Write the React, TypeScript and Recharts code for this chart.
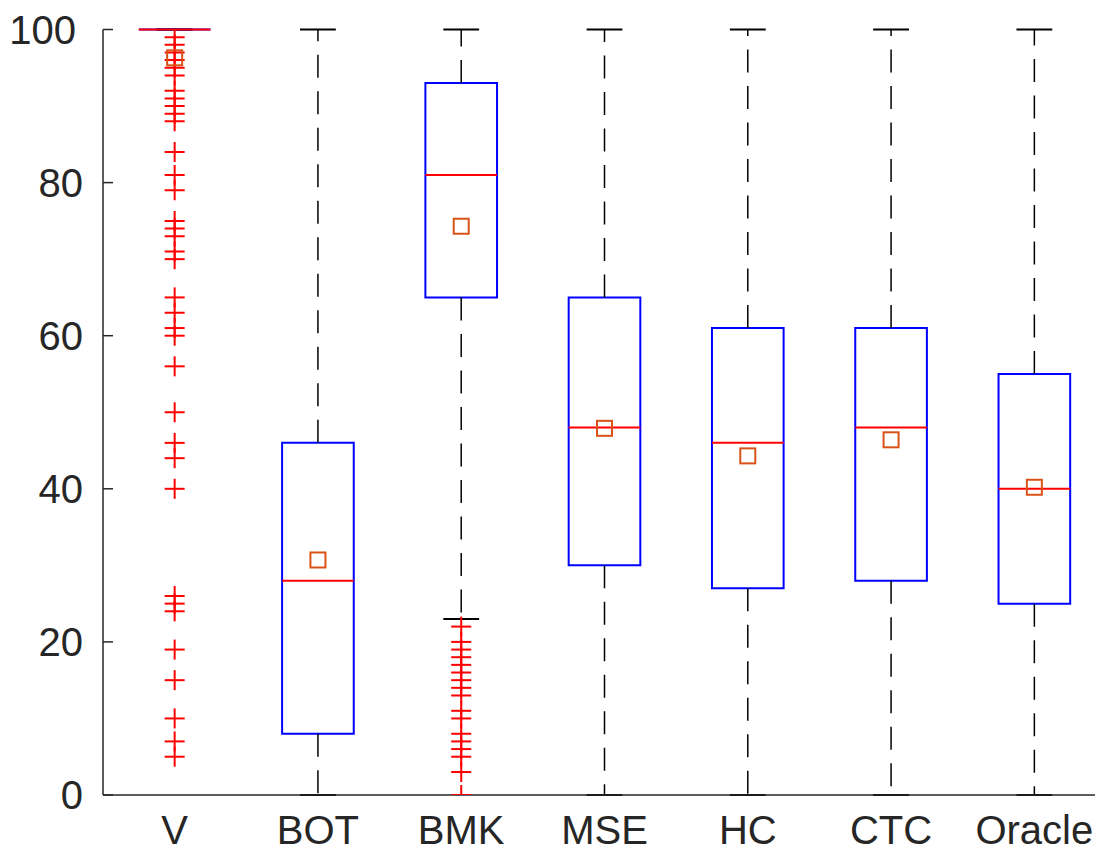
import React from 'react';
import {
  ComposedChart,
  XAxis,
  YAxis,
  Scatter,
  ReferenceLine,
  ReferenceArea,
} from 'recharts';

// ---- data ----
const categories = ['V', 'BOT', 'BMK', 'MSE', 'HC', 'CTC', 'Oracle'];
const q1 = [100, 8, 65, 30, 27, 28, 25];
const medians = [100, 28, 81, 48, 46, 48, 40];
const q3 = [100, 46, 93, 65, 61, 61, 55];
const whiskerLow = [100, 0, 23, 0, 0, 0, 0];
const whiskerHigh = [100, 100, 100, 100, 100, 100, 100];
const means = [96.3, 30.7, 74.3, 47.9, 44.3, 46.4, 40.2];
const outliersV = [
  99, 98, 97, 96, 95, 94, 92, 91, 90, 89, 88, 84, 81, 79, 75, 74, 73, 71, 70, 65, 63, 61, 60, 56,
  50, 46, 44, 40, 26, 25, 24, 19, 15, 10, 7, 5,
];
const outliersBMK = [22, 20, 19, 18, 17, 16, 15, 14, 13, 11, 10, 8, 7, 6, 5, 3, 0];
const yTicks = [0, 20, 40, 60, 80, 100];

const positions = categories.map((_, i) => i + 1);
const outlierPoints = [
  ...outliersV.map((v) => ({ x: 1, y: v })),
  ...outliersBMK.map((v) => ({ x: 3, y: v })),
];
const meanPoints = means.map((m, i) => ({ x: positions[i], y: m }));

const AXIS = '#262626';
const FONT = 40;
const HALF_BOX = 0.25;
const HALF_CAP = 0.125;

const PlusShape = (props: any) => {
  const { cx, cy } = props;
  if (cx == null || cy == null) return null;
  const s = 10;
  return (
    <g>
      <line x1={cx - s} x2={cx + s} y1={cy} y2={cy} stroke="#FF0000" strokeWidth={2} />
      <line x1={cx} x2={cx} y1={cy - s} y2={cy + s} stroke="#FF0000" strokeWidth={2} />
    </g>
  );
};

const SquareShape = (props: any) => {
  const { cx, cy } = props;
  if (cx == null || cy == null) return null;
  const s = 7.5;
  return (
    <rect x={cx - s} y={cy - s} width={2 * s} height={2 * s} fill="none" stroke="#D95319" strokeWidth={2} />
  );
};

const LeftTick = (props: any) => {
  const { x, y, payload } = props;
  const shift = payload.value === 100 ? -7 : 0;
  return (
    <g>
      <text x={x + shift} y={y} dy="0.36em" textAnchor="end" fontSize={FONT} fill={AXIS}>
        {payload.value}
      </text>
      <line x1={x + 20} x2={x + 30} y1={y} y2={y} stroke={AXIS} strokeWidth={1.5} />
    </g>
  );
};

const RightTick = (props: any) => {
  const { x, y } = props;
  return <line x1={x - 10} x2={x} y1={y} y2={y} stroke={AXIS} strokeWidth={1.5} />;
};

export default function App() {
  return (
    <div
      style={{
        position: 'absolute',
        left: 0,
        top: 0,
        width: 1095,
        height: 852,
        overflow: 'hidden',
        background: '#ffffff',
      }}
    >
      <ComposedChart
        width={1117}
        height={852}
        margin={{ top: 29.5, right: 10, bottom: 0, left: 0 }}
        style={{ fontFamily: '"Liberation Sans", Arial, Helvetica, sans-serif' }}
      >
        <XAxis
          xAxisId={0}
          type="number"
          dataKey="x"
          domain={[0.5, 7.5]}
          ticks={positions}
          tickFormatter={(v: number) => categories[v - 1] ?? ''}
          allowDataOverflow
          height={57}
          tickSize={0}
          tickMargin={21}
          tickLine={false}
          axisLine={{ stroke: AXIS, strokeWidth: 1.5 }}
          tick={{ fontSize: FONT, fill: AXIS }}
          interval={0}
        />
        <XAxis
          xAxisId="top"
          orientation="top"
          type="number"
          domain={[0.5, 7.5]}
          ticks={[]}
          height={0}
          tick={false}
          tickLine={false}
          axisLine={{ stroke: AXIS, strokeWidth: 1.5 }}
        />
        <YAxis
          yAxisId={0}
          type="number"
          dataKey="y"
          domain={[0, 100]}
          ticks={yTicks}
          allowDataOverflow
          width={103}
          tickSize={0}
          tickMargin={20}
          tickLine={false}
          axisLine={{ stroke: AXIS, strokeWidth: 1.5 }}
          tick={<LeftTick />}
          interval={0}
        />
        <YAxis
          yAxisId="right"
          orientation="right"
          type="number"
          domain={[0, 100]}
          ticks={yTicks}
          width={1}
          tickSize={0}
          tickMargin={0}
          tickLine={false}
          axisLine={{ stroke: AXIS, strokeWidth: 1.5 }}
          tick={<RightTick />}
          interval={0}
        />

        {positions.map((p, i) => (
          <ReferenceLine
            key={`wh-${i}`}
            segment={[
              { x: p, y: q3[i] },
              { x: p, y: whiskerHigh[i] },
            ]}
            stroke="#000000"
            strokeWidth={1.5}
            strokeDasharray="23 13.5"
          />
        ))}
        {positions.map((p, i) => (
          <ReferenceLine
            key={`wl-${i}`}
            segment={[
              { x: p, y: q1[i] },
              { x: p, y: whiskerLow[i] },
            ]}
            stroke="#000000"
            strokeWidth={1.5}
            strokeDasharray="23 13.5"
          />
        ))}
        {positions.map((p, i) => (
          <ReferenceLine
            key={`ch-${i}`}
            segment={[
              { x: p - HALF_CAP, y: whiskerHigh[i] },
              { x: p + HALF_CAP, y: whiskerHigh[i] },
            ]}
            stroke="#000000"
            strokeWidth={2}
          />
        ))}
        {positions.map((p, i) => (
          <ReferenceLine
            key={`cl-${i}`}
            segment={[
              { x: p - HALF_CAP, y: whiskerLow[i] },
              { x: p + HALF_CAP, y: whiskerLow[i] },
            ]}
            stroke="#000000"
            strokeWidth={2}
          />
        ))}
        {positions.map((p, i) =>
          q3[i] > q1[i] ? (
            <ReferenceArea
              key={`box-${i}`}
              x1={p - HALF_BOX}
              x2={p + HALF_BOX}
              y1={q1[i]}
              y2={q3[i]}
              fill="none"
              fillOpacity={0}
              stroke="#0000FF"
              strokeWidth={2}
              strokeOpacity={1}
            />
          ) : (
            <ReferenceLine
              key={`box-${i}`}
              segment={[
                { x: p - HALF_BOX, y: q3[i] },
                { x: p + HALF_BOX, y: q3[i] },
              ]}
              stroke="#0000FF"
              strokeWidth={2}
            />
          )
        )}
        {positions.map((p, i) => (
          <ReferenceLine
            key={`med-${i}`}
            segment={[
              { x: p - HALF_BOX, y: medians[i] },
              { x: p + HALF_BOX, y: medians[i] },
            ]}
            stroke="#FF0000"
            strokeWidth={2}
          />
        ))}

        <Scatter data={outlierPoints} shape={<PlusShape />} isAnimationActive={false} />
        <Scatter data={meanPoints} shape={<SquareShape />} isAnimationActive={false} />
      </ComposedChart>
    </div>
  );
}
